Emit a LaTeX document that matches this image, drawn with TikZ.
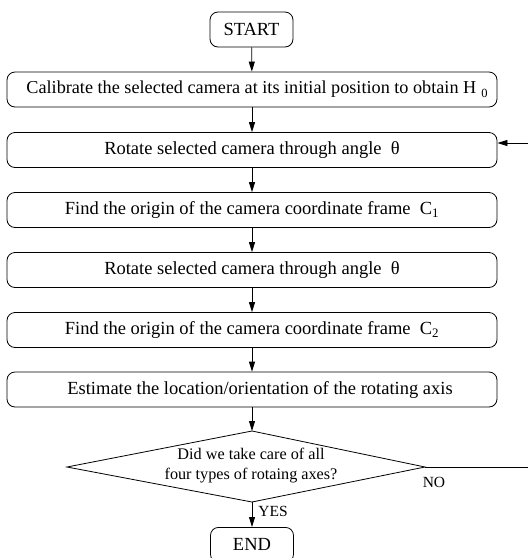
\documentclass[tikz,border=0pt]{standalone}
\usepackage{fontspec}
\setmainfont{Liberation Serif}
\usetikzlibrary{arrows.meta}
\begin{document}
\begin{tikzpicture}[x=1pt,y=-1pt,
  every node/.style={font=\fontsize{18.5}{22}\selectfont, inner sep=0pt},
  stepbox/.style={draw, line width=0.8pt, rounded corners=8pt, minimum width=490pt, minimum height=35pt},
  termbox/.style={draw, line width=0.8pt, rounded corners=8pt, minimum width=83pt, minimum height=35pt},
  conn/.style={line width=0.8pt, -{Triangle[length=10pt,width=6pt]}},
  plainline/.style={line width=0.8pt},
  lbl/.style={font=\fontsize{15.5}{18}\selectfont}]
\useasboundingbox (0,0) rectangle (528,558);
\clip (0,0) rectangle (528,558);
\node[termbox] (start) at (251.5,29.5) {START};
\node[stepbox, font=\fontsize{18.2}{20}\selectfont] (cal) at (252,89.5) {\hspace*{10pt}Calibrate the selected camera at its initial position to obtain H\,\raisebox{-0.5ex}{\fontsize{12.5}{12}\selectfont\,0}};
\node[stepbox] (rot1) at (252,150) {Rotate selected camera through angle\ \ θ};
\node[stepbox] (c1) at (252,210) {Find the origin of the camera coordinate frame\ \ C\textsubscript{1}};
\node[stepbox] (rot2) at (252,270) {Rotate selected camera through angle\ \ θ};
\node[stepbox] (c2) at (252,330) {Find the origin of the camera coordinate frame\ \ C\textsubscript{2}};
\node[stepbox] (est) at (252,389.5) {\hspace*{16pt}Estimate the location/orientation of the rotating axis};
\coordinate (dt) at (252,431);
\coordinate (dl) at (67,467);
\coordinate (dr) at (425,467);
\coordinate (db) at (252,502);
\draw[plainline] (dt) -- (dr) -- (db) -- (dl) -- cycle;
\node[align=center, font=\fontsize{16.2}{20}\selectfont] (q) at (251,466) {Did we take care of all\\four types of rotaing axes?};
\node[termbox, anchor=north] (end) at (252,527) {END};
\node[lbl] (no) at (434,482) {NO};
\node[lbl] (yes) at (273,511) {YES};
\coordinate (loopr) at (540,467);
\coordinate (loopt) at (540,143);
\draw[conn] (start) -- (cal);
\draw[conn] (cal) -- (rot1);
\draw[conn] (rot1) -- (c1);
\draw[conn] (c1) -- (rot2);
\draw[conn] (rot2) -- (c2);
\draw[conn] (c2) -- (est);
\draw[conn] (est.south) -- (dt);
\draw[conn] (db) -- (end);
\draw[conn] (dr) -- (loopr) -- (loopt) -- (rot1.east |- loopt);
\end{tikzpicture}
\end{document}
